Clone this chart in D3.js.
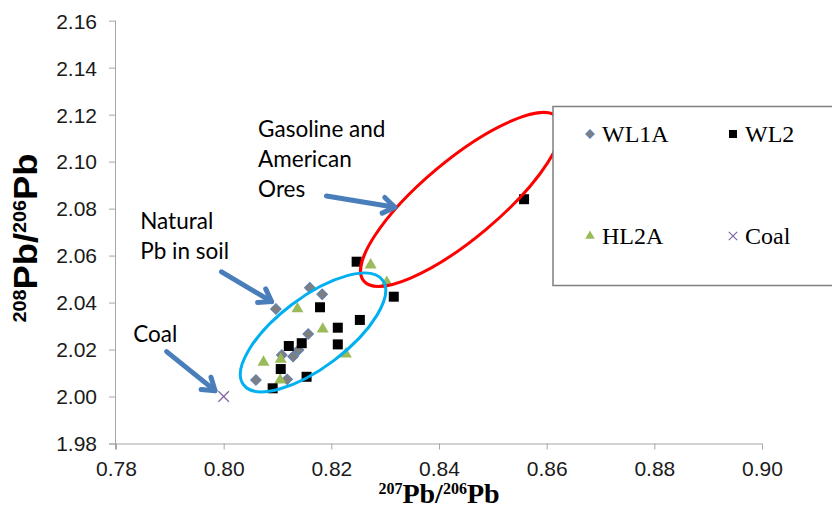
<!DOCTYPE html>
<html>
<head>
<meta charset="utf-8">
<script src="https://cdn.jsdelivr.net/npm/d3@7"></script>
<style>
  html, body { margin: 0; padding: 0; background: #fff; }
  svg { display: block; }
</style>
</head>
<body>
<svg id="chart" width="832" height="508"></svg>
<script>
// series: [207Pb/206Pb, 208Pb/206Pb]
const wl1a = [
  [0.8097, 2.0373], [0.8160, 2.0463], [0.8183, 2.0435], [0.8157, 2.0266],
  [0.8139, 2.0198], [0.8129, 2.0170], [0.8108, 2.0177], [0.8060, 2.0070],
  [0.8118, 2.0073]
]
const wl2 = [
  [0.8247, 2.0574], [0.8316, 2.0425], [0.8179, 2.0380], [0.8212, 2.0293],
  [0.8253, 2.0326], [0.8212, 2.0222], [0.8121, 2.0215], [0.8145, 2.0227],
  [0.8106, 2.0117], [0.8154, 2.0084], [0.8091, 2.0035], [0.8558, 2.0840]
]
const hl2a = [
  [0.8273, 2.0560], [0.8303, 2.0486], [0.8137, 2.0373], [0.8184, 2.0287],
  [0.8227, 2.0181], [0.8074, 2.0146], [0.8106, 2.0158], [0.8105, 2.0070]
]
const coal = [[0.800, 2.000]]

const xTicks = [0.78, 0.80, 0.82, 0.84, 0.86, 0.88, 0.90]
const yTicks = [1.98, 2.00, 2.02, 2.04, 2.06, 2.08, 2.10, 2.12, 2.14, 2.16]

// annotations (in data units)
const groupCentres = [
  {name: 'ores', x: 0.8441, y: 2.0839},
  {name: 'soil', x: 0.8166, y: 2.0273}
]
const arrows = [
  {from: [0.8191, 2.0854], to: [0.8318, 2.0806]},
  {from: [0.7996, 2.0531], to: [0.8089, 2.0404]},
  {from: [0.7894, 2.0191], to: [0.7984, 2.0025]}
]
const notes = [
  {lines: ['Gasoline and', 'American', 'Ores'], x: 0.8064, y: 2.1106},
  {lines: ['Natural', 'Pb in soil'], x: 0.7845, y: 2.0712},
  {lines: ['Coal'], x: 0.7832, y: 2.0233}
]

const svg = d3.select('#chart')

const xScale = d3.scaleLinear().domain([0.78, 0.90]).range([116, 762])
const yScale = d3.scaleLinear().domain([1.98, 2.16]).range([443.5, 20.7])

const axisColor = '#a6a6a6'

// x axis
const gx = svg.append('g')
  .attr('transform', `translate(0,${yScale(1.98)})`)
  .call(d3.axisBottom(xScale).tickValues(xTicks).tickSize(6).tickSizeOuter(0)
    .tickFormat(d3.format('.2f')))
gx.select('.domain').attr('stroke', axisColor).attr('d', `M${xScale(0.78) - 7},0.5H${xScale(0.90)}`)
gx.selectAll('.tick line').attr('stroke', axisColor)
gx.selectAll('.tick text')
  .attr('y', 32.5).attr('dy', 0)
  .attr('font-family', 'Liberation Sans, Arial, sans-serif')
  .attr('font-size', 21).attr('fill', '#1a1a1a')

// y axis
const gy = svg.append('g')
  .attr('transform', `translate(${xScale(0.78)},0)`)
  .call(d3.axisLeft(yScale).tickValues(yTicks).tickSize(7).tickSizeOuter(0)
    .tickFormat(d3.format('.2f')))
gy.select('.domain').attr('stroke', axisColor).attr('d', `M-0.5,${yScale(2.16)}V${yScale(1.98) + 6}`)
gy.selectAll('.tick line').attr('stroke', axisColor)
gy.selectAll('.tick text')
  .attr('x', -19).attr('dy', '0.35em')
  .attr('font-family', 'Liberation Sans, Arial, sans-serif')
  .attr('font-size', 21).attr('fill', '#1a1a1a')

// axis titles
const xTitle = svg.append('text')
  .attr('x', 439).attr('y', 503)
  .attr('text-anchor', 'middle')
  .attr('font-family', 'Liberation Serif, Times New Roman, serif')
  .attr('font-weight', 'bold').attr('font-size', 28)
xTitle.append('tspan').attr('font-size', 16).attr('dy', -9).text('207')
xTitle.append('tspan').attr('dy', 9).text('Pb/')
xTitle.append('tspan').attr('font-size', 16).attr('dy', -9).text('206')
xTitle.append('tspan').attr('dy', 9).text('Pb')

const yTitle = svg.append('text')
  .attr('transform', 'translate(37,238) rotate(-90) scale(1.1,1)')
  .attr('text-anchor', 'middle')
  .attr('font-family', 'Liberation Sans, Arial, sans-serif')
  .attr('font-weight', 'bold').attr('font-size', 33)
yTitle.append('tspan').attr('font-size', 18).attr('dy', -11).text('208')
yTitle.append('tspan').attr('dy', 11).text('Pb/')
yTitle.append('tspan').attr('font-size', 18).attr('dy', -11).text('206')
yTitle.append('tspan').attr('dy', 11).text('Pb')

// markers
const timesSymbol = {
  draw(context, size) {
    const r = Math.sqrt(size) / 2
    context.moveTo(-r, -r); context.lineTo(r, r)
    context.moveTo(r, -r); context.lineTo(-r, r)
  }
}

function drawSeries(data, kind, g) {
  const sel = g.selectAll(null).data(data).join('path')
    .attr('transform', d => `translate(${xScale(d[0])},${yScale(d[1])})` + (kind === 'diamond' ? ' rotate(45)' : ''))
  styleMarker(sel, kind, 1)
}

function styleMarker(sel, kind, k) {
  if (kind === 'diamond') {
    sel.attr('d', d3.symbol(d3.symbolSquare, 56 * k * k)())
      .attr('fill', '#7f7f7f').attr('stroke', '#5b7fb5').attr('stroke-width', 1)
  } else if (kind === 'square') {
    sel.attr('d', d3.symbol(d3.symbolSquare, 100 * k * k)())
      .attr('fill', '#000')
  } else if (kind === 'triangle') {
    sel.attr('d', d3.symbol(d3.symbolTriangle, 62 * k * k)())
      .attr('fill', '#9bbb59')
  } else {
    sel.attr('d', d3.symbol(timesSymbol, 110 * k * k)())
      .attr('fill', 'none').attr('stroke', '#8064a2').attr('stroke-width', 1.2)
  }
}

const marks = svg.append('g')
drawSeries(wl1a, 'diamond', marks)
drawSeries(hl2a, 'triangle', marks)
drawSeries(wl2, 'square', marks)
drawSeries(coal, 'times', marks)

// group ellipses
const ellipseStyle = {
  ores: {rx: 127, ry: 39, angle: -40, color: '#ff0000'},
  soil: {rx: 87, ry: 35, angle: -37, color: '#00b0f0'}
}
svg.append('g').selectAll('ellipse').data(groupCentres).join('ellipse')
  .attr('transform', d => `translate(${xScale(d.x)},${yScale(d.y)}) rotate(${ellipseStyle[d.name].angle})`)
  .attr('rx', d => ellipseStyle[d.name].rx)
  .attr('ry', d => ellipseStyle[d.name].ry)
  .attr('fill', 'none')
  .attr('stroke', d => ellipseStyle[d.name].color)
  .attr('stroke-width', 3)

// arrows with open heads
const arrowColor = '#4a7ebb'
const ga = svg.append('g').attr('stroke', arrowColor).attr('fill', 'none')
  .attr('stroke-width', 5).attr('stroke-linecap', 'round').attr('stroke-linejoin', 'round')
arrows.forEach(a => {
  const x0 = xScale(a.from[0]), y0 = yScale(a.from[1])
  const x1 = xScale(a.to[0]), y1 = yScale(a.to[1])
  const ang = Math.atan2(y1 - y0, x1 - x0)
  const L = 14, spread = 0.6
  ga.append('line').attr('x1', x0).attr('y1', y0).attr('x2', x1).attr('y2', y1)
  ga.append('path').attr('d',
    `M${x1 - L * Math.cos(ang - spread)},${y1 - L * Math.sin(ang - spread)}` +
    `L${x1},${y1}` +
    `L${x1 - L * Math.cos(ang + spread)},${y1 - L * Math.sin(ang + spread)}`)
})

// annotation text
notes.forEach(n => {
  const t = svg.append('text')
    .attr('x', xScale(n.x)).attr('y', yScale(n.y))
    .attr('font-family', 'Lato, Open Sans, sans-serif')
    .attr('font-size', 22.5).attr('fill', '#000')
  n.lines.forEach((line, i) => {
    t.append('tspan').attr('x', xScale(n.x)).attr('dy', i === 0 ? 0 : 30).text(line)
  })
})

// legend
const legend = svg.append('g')
legend.append('rect')
  .attr('x', 553).attr('y', 106.5).attr('width', 290).attr('height', 179)
  .attr('fill', '#fff').attr('stroke', '#7f7f7f').attr('stroke-width', 1.5)

const legendItems = [
  {name: 'WL1A', kind: 'diamond', col: 0, row: 0},
  {name: 'WL2', kind: 'square', col: 1, row: 0},
  {name: 'HL2A', kind: 'triangle', col: 0, row: 1},
  {name: 'Coal', kind: 'times', col: 1, row: 1}
]
legendItems.forEach(it => {
  const cx = 590 + it.col * 143, cy = 134 + it.row * 102
  const m = legend.append('path')
    .attr('transform', `translate(${cx},${cy})` + (it.kind === 'diamond' ? ' rotate(45)' : ''))
  styleMarker(m, it.kind, 0.8)
  legend.append('text')
    .attr('x', cx + 12).attr('y', cy + 8)
    .attr('font-family', 'Liberation Serif, Times New Roman, serif')
    .attr('font-size', 24).attr('fill', '#000')
    .text(it.name)
})
</script>
</body>
</html>
